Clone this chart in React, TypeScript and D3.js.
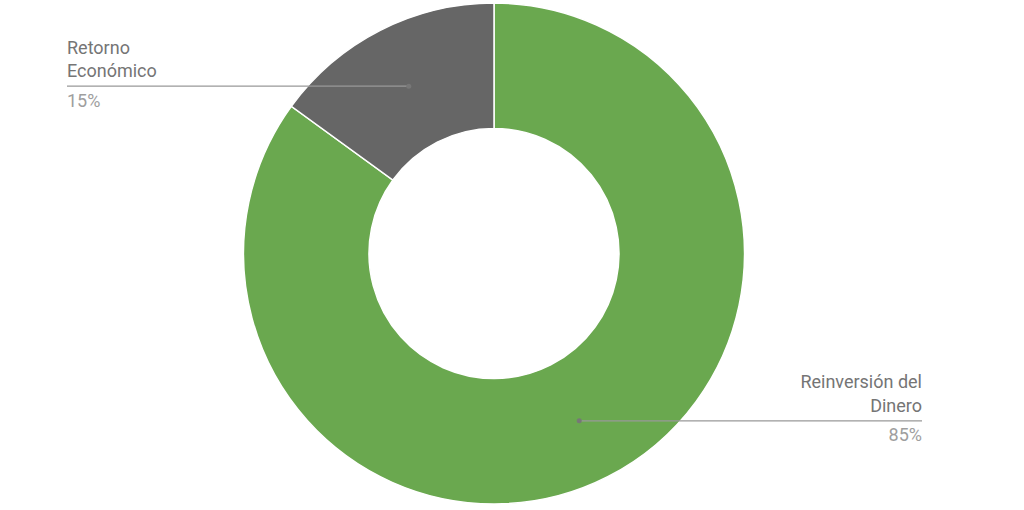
import React from "react";
import * as d3 from "d3";

const categories = ["Reinversión del Dinero", "Retorno Económico"];
const values = [85, 15];
const colors = ["#6aa84f", "#666666"];
const labelLines = [["Reinversión del", "Dinero"], ["Retorno", "Económico"]];
const pctLabels = ["85%", "15%"];

const W = 1024;
const H = 510;
const cx = 494;
const cy = 253.5;
const outerR = 250.5;
const innerR = 125;

export default function App() {
  const pie = d3.pie<number>().sort(null).value((d) => d)(values);
  const arc = d3.arc<d3.PieArcDatum<number>>().innerRadius(innerR).outerRadius(outerR);
  const midR = (innerR + outerR) / 2;

  return (
    <svg width={W} height={H} style={{ position: "absolute", left: 0, top: 0 }} fontFamily="Roboto, sans-serif">
      <rect width={W} height={H} fill="#ffffff" />
      <g transform={`translate(${cx},${cy})`}>
        {pie.map((p, i) => (
          <path key={i} d={arc(p) || ""} fill={colors[i]} stroke="#ffffff" strokeWidth={1.5} />
        ))}
      </g>
      {pie.map((p, i) => {
        const a = (p.startAngle + p.endAngle) / 2;
        const px = cx + Math.sin(a) * midR;
        const py = cy - Math.cos(a) * midR;
        const right = px > cx;
        const endX = right ? 922 : 67;
        const anchor = right ? "end" : "start";
        const lines = labelLines[i];
        return (
          <g key={"l" + i}>
            <line x1={px} y1={py} x2={endX} y2={py} stroke="#999999" strokeWidth={1.2} />
            <circle cx={px} cy={py} r={2.5} fill="#777777" />
            {lines.map((t, j) => (
              <text key={j} x={endX} y={py - 9 - (lines.length - 1 - j) * 23.5} textAnchor={anchor} fontSize={18} fill="#757575">
                {t}
              </text>
            ))}
            <text x={endX} y={py + 20.5} textAnchor={anchor} fontSize={18} fill="#9e9e9e">
              {pctLabels[i]}
            </text>
          </g>
        );
      })}
    </svg>
  );
}
